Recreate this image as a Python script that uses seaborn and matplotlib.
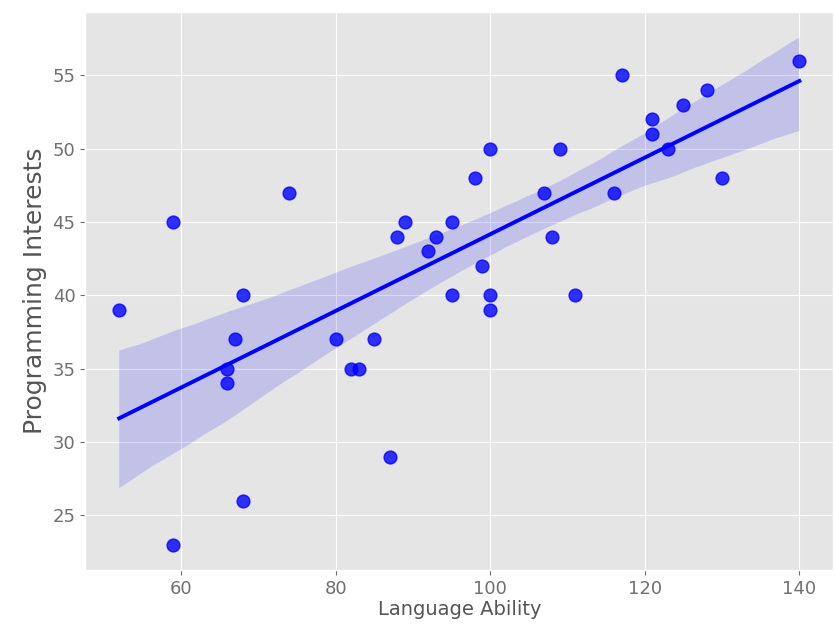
import numpy as np
import pandas as pd
import matplotlib
matplotlib.use('Agg')
import matplotlib.pyplot as plt
import seaborn as sns

# Values
language_ability = [52, 59, 59, 66, 66, 67, 68, 68, 74, 80, 82, 83, 85, 87, 88, 89,
                    92, 93, 95, 95, 98, 99, 100, 100, 100, 107, 108, 109, 111, 116,
                    117, 121, 121, 123, 125, 128, 130, 140]
programming_interests = [39, 45, 23, 35, 34, 37, 40, 26, 47, 37, 35, 35, 37, 29, 44, 45,
                         43, 44, 45, 40, 48, 42, 50, 40, 39, 47, 44, 50, 40, 47,
                         55, 52, 51, 50, 53, 54, 48, 56]

df = pd.DataFrame({'Language Ability': language_ability,
                   'Programming Interests': programming_interests})

plt.style.use('ggplot')
fig, ax = plt.subplots(figsize=(8.35, 6.41), dpi=100)
sns.regplot(x='Language Ability', y='Programming Interests', data=df, color='blue',
            scatter_kws={'s': 85}, line_kws={'linewidth': 2.8}, ax=ax, seed=0)

ax.xaxis.label.set_size(14)
ax.yaxis.label.set_size(18)
ax.xaxis.labelpad = 2
ax.yaxis.labelpad = 4
ax.tick_params(labelsize=13, colors='#707070')
plt.subplots_adjust(left=0.102, right=0.998, top=0.981, bottom=0.111)
plt.savefig('out.png')
